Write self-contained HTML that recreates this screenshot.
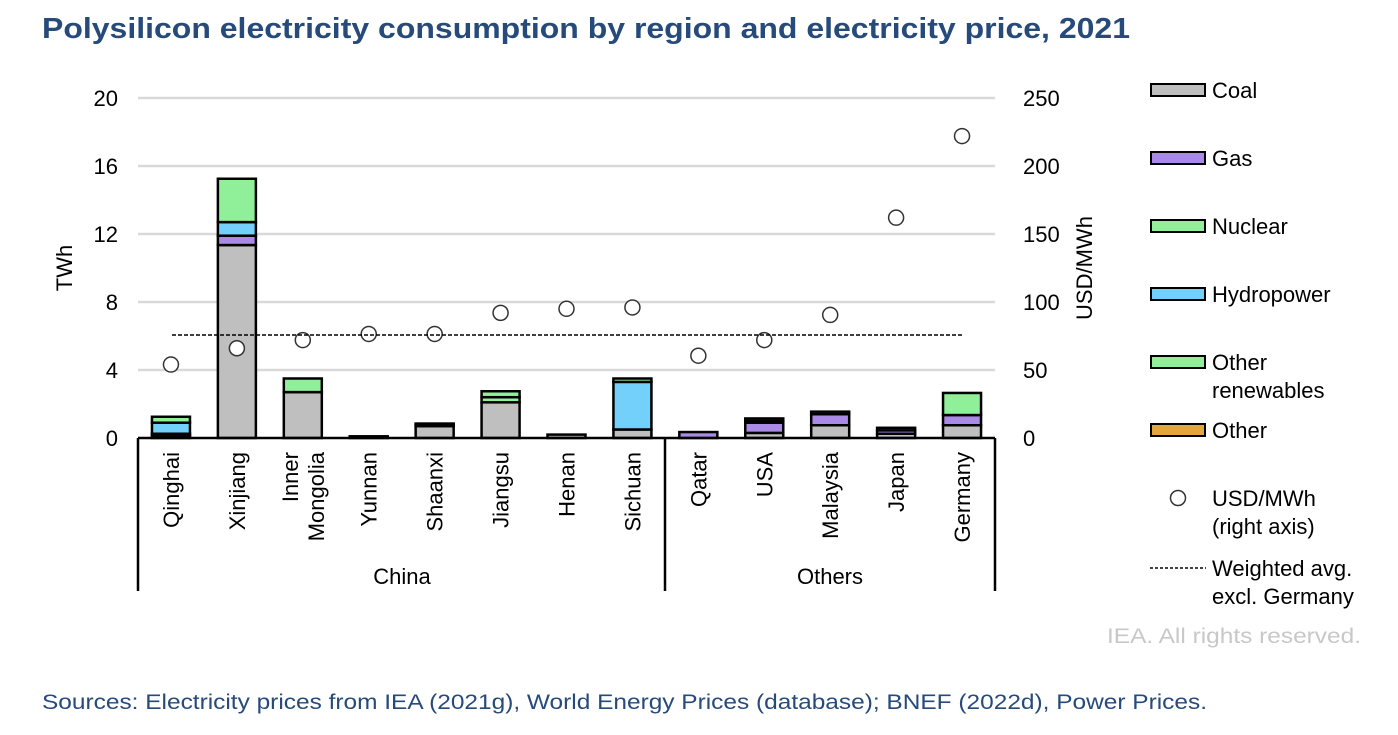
<!DOCTYPE html>
<html><head><meta charset="utf-8"><style>
body{margin:0;background:#fff;font-family:"Liberation Sans",Arial,sans-serif;}
svg text{font-family:"Liberation Sans",Arial,sans-serif;}
</style></head><body>
<svg id="chart" width="1398" height="730" xmlns="http://www.w3.org/2000/svg">
<text x="42" y="38" font-size="29" font-weight="bold" fill="#264a7a" textLength="1088" lengthAdjust="spacingAndGlyphs">Polysilicon electricity consumption by region and electricity price, 2021</text>
<g id="grid"></g><g id="bars"></g><g id="pts"></g><g id="axes"></g><g id="legend"></g>
<text x="1107" y="643" font-size="21" fill="#c8c8c8" textLength="254" lengthAdjust="spacingAndGlyphs">IEA. All rights reserved.</text>
<text x="42" y="709" font-size="21" fill="#264a7a" textLength="1165" lengthAdjust="spacingAndGlyphs">Sources: Electricity prices from IEA (2021g), World Energy Prices (database); BNEF (2022d), Power Prices.</text>
</svg>
<script>
const categories=["Qinghai","Xinjiang","Inner|Mongolia","Yunnan","Shaanxi","Jiangsu","Henan","Sichuan","Qatar","USA","Malaysia","Japan","Germany"];
const coal=[0.1,11.35,2.7,0.1,0.7,2.1,0.2,0.5,0,0.3,0.75,0.25,0.75];
const gas=[0.15,0.55,0,0,0.1,0,0,0,0.35,0.6,0.65,0.2,0.6];
const nuclear=[0,0,0,0,0,0.3,0,0,0,0.1,0,0.15,1.3];
const hydro=[0.65,0.8,0,0,0,0,0,2.8,0,0,0.15,0,0];
const otherRen=[0.35,2.55,0.8,0,0.05,0.35,0,0.2,0,0.15,0,0,0];
const other=[0,0,0,0,0,0,0,0,0,0,0,0,0];
const price=[54,66,72,76.5,76.5,92,95,96,60.5,72,90.5,162,222];
const avgPrice=75.7;
const leftTicks=[0,4,8,12,16,20];
const rightTicks=[0,50,100,150,200,250];
const NS="http://www.w3.org/2000/svg";
const X0=138,X1=995,Y0=438,YT=98;
const bw=(X1-X0)/categories.length;
const yL=v=>Y0-(Y0-YT)*v/20;
const yR=v=>Y0-(Y0-YT)*v/250;
const xC=i=>X0+bw*(i+0.5);
const FS=22;
function mk(t,a,p){const e=document.createElementNS(NS,t);for(const k in a)e.setAttribute(k,a[k]);document.getElementById(p).appendChild(e);return e;}
leftTicks.forEach((v,i)=>{
 if(v>0){const l=mk('line',{x1:X0,x2:X1,y1:yL(v),y2:yL(v),stroke:'#d9d9d9','stroke-width':2.5},'grid');
 
 }
 const t=mk('text',{x:118,y:yL(v)+8,'font-size':FS,'text-anchor':'end'},'axes');t.textContent=v;
 
 
});
rightTicks.forEach(v=>{
 const t=mk('text',{x:1023,y:yR(v)+8,'font-size':FS},'axes');t.textContent=v;
 
 
});
const series=[[coal,'#bfbfbf','coal'],[gas,'#a98ae6','gas'],[nuclear,'#90f09a','nuclear'],[hydro,'#72d0fb','hydro'],[otherRen,'#90f09a','other-renewables'],[other,'#e0a838','other']];
categories.forEach((c,i)=>{
 let base=0;const w=38,x=xC(i)-w/2;
 series.forEach(([arr,col,nm])=>{
  const v=arr[i];if(v<=0)return;
  const r=mk('rect',{x:x,y:yL(base+v),width:w,height:yL(base)-yL(base+v),fill:col,stroke:'#000','stroke-width':2.5},'bars');
  
  
  base+=v;
 });
 const p=mk('circle',{cx:xC(i),cy:yR(price[i]),r:7.5,fill:'#fff',stroke:'#333','stroke-width':1.5},'pts');
 
 
 const parts=c.split('|');
 parts.forEach((s,j)=>{
  const lx=xC(i)+8-(parts.length-1)*13+j*26;
  const t=mk('text',{x:lx,y:452,'font-size':FS,'text-anchor':'end',transform:`rotate(-90 ${lx} 452)`},'axes');t.textContent=s;
  
  
 });
});
const av=mk('line',{x1:172,x2:962,y1:yR(avgPrice),y2:yR(avgPrice),stroke:'#000','stroke-width':1.5,'stroke-dasharray':'4,2'},'pts');


const ax=mk('line',{x1:X0,x2:X1,y1:Y0,y2:Y0,stroke:'#000','stroke-width':2.5},'axes');


[X0,665,X1].forEach(x=>{const l=mk('line',{x1:x,x2:x,y1:Y0,y2:591,stroke:'#000','stroke-width':2.5},'axes');
 
 });
[['China',402],['Others',830]].forEach(([s,x])=>{const t=mk('text',{x:x,y:584,'font-size':FS,'text-anchor':'middle'},'axes');t.textContent=s;
 
 });
let t=mk('text',{x:72,y:268,'font-size':FS,'text-anchor':'middle',transform:'rotate(-90 72 268)'},'axes');t.textContent='TWh';


t=mk('text',{x:1092,y:268,'font-size':FS,'text-anchor':'middle',transform:'rotate(-90 1092 268)'},'axes');t.textContent='USD/MWh';


const leg=[['Coal','#bfbfbf'],['Gas','#a98ae6'],['Nuclear','#90f09a'],['Hydropower','#72d0fb'],['Other|renewables','#90f09a'],['Other','#e0a838']];
leg.forEach(([s,c],i)=>{
 const y=90+i*68;
 const r=mk('rect',{x:1151,y:y-6,width:54,height:12,fill:c,stroke:'#000','stroke-width':2},'legend');
 
 
 s.split('|').forEach((p,j)=>{const tt=mk('text',{x:1212,y:y+8+j*28,'font-size':FS},'legend');tt.textContent=p;
  
  });
});
const lc=mk('circle',{cx:1178,cy:498,r:7.5,fill:'#fff',stroke:'#333','stroke-width':1.5},'legend');


[['USD/MWh',506],['(right axis)',534]].forEach(([s,y])=>{const tt=mk('text',{x:1212,y:y,'font-size':FS},'legend');tt.textContent=s;
 
 });
const ll=mk('line',{x1:1150,x2:1206,y1:568,y2:568,stroke:'#000','stroke-width':1.5,'stroke-dasharray':'3,2'},'legend');


[['Weighted avg.',576],['excl. Germany',604]].forEach(([s,y])=>{const tt=mk('text',{x:1212,y:y,'font-size':FS},'legend');tt.textContent=s;
 
 });
</script>
</body></html>
